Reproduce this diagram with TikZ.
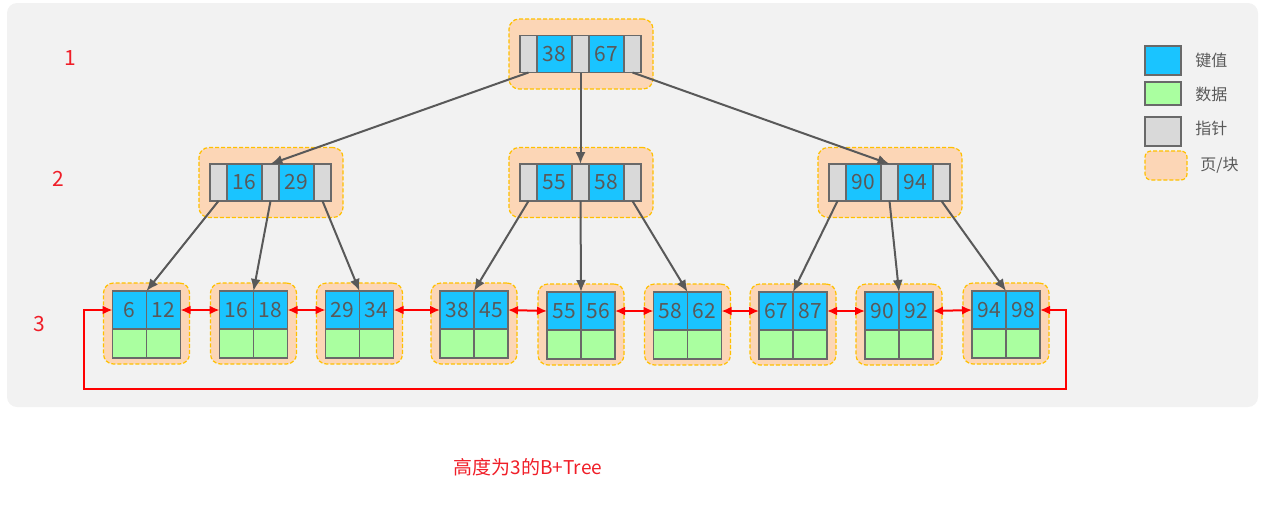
\documentclass[tikz,border=0pt]{standalone}
\usepackage{fontspec}
\setmainfont{Noto Sans CJK SC}
\usepackage{tikz}
\usetikzlibrary{arrows.meta,positioning}
\definecolor{panel}{RGB}{242,242,242}
\definecolor{keyblue}{RGB}{26,196,255}
\definecolor{datgreen}{RGB}{170,255,160}
\definecolor{ptrgray}{RGB}{217,217,217}
\definecolor{cellline}{RGB}{105,105,105}
\definecolor{pagefill}{RGB}{252,214,182}
\definecolor{pageline}{RGB}{255,192,0}
\definecolor{txtgray}{RGB}{89,89,89}
\definecolor{linkred}{RGB}{255,0,0}
\definecolor{labred}{RGB}{240,30,40}
\tikzstyle{cell}=[draw=cellline, line width=0.7pt, outer sep=0pt, inner sep=0pt, minimum height=18.5pt, text=txtgray, font=\fontsize{10.5}{12}\selectfont]
\tikzstyle{ptr}=[cell, fill=ptrgray, minimum width=8.5pt]
\tikzstyle{key}=[cell, fill=keyblue, minimum width=17.5pt]
\tikzstyle{dat}=[cell, fill=datgreen, minimum width=17pt, minimum height=14.5pt]
\tikzstyle{page}=[draw=pageline, fill=pagefill, dash pattern=on 2pt off 1pt, line width=0.6pt, rounded corners=5pt, outer sep=0pt]
\tikzstyle{dedge}=[draw=txtgray, line width=1pt, -{Latex[length=6pt,width=5pt]}]
\tikzstyle{link}=[draw=linkred, line width=1pt, {Latex[length=5pt,width=4.5pt]}-{Latex[length=5pt,width=4.5pt]}]
\tikzset{
  lvl/.style = {text=labred, font=\fontsize{10.5}{12}\selectfont},
  legtext/.style = {text=txtgray, anchor=west, inner sep=0pt, font=\fontsize{8}{10}\selectfont},
  caption/.style = {text=labred, font=\fontsize{9.5}{11}\selectfont},
}
\begin{document}
\begin{tikzpicture}[x=0.5pt,y=-0.5pt]
\useasboundingbox (0,0) rectangle (1261,504);
\fill[panel, rounded corners=5pt] (7,3) rectangle (1258,407);

% index pages: root and level 2
\foreach \n/\x/\y/\a/\b in {r/580.5/54/38/67, L/270.5/182.5/16/29, M/580.5/182.5/55/58, R/889.5/182.5/90/94}{
  \node[page, minimum width=72pt, minimum height=35pt] (pg\n) at (\x+0.5,\y) {};
  \node[ptr] (p\n1) at (\x,\y) {};
  \node[key, left=0pt of p\n1] (k\n1) {\a};
  \node[ptr, left=0pt of k\n1] (p\n0) {};
  \node[key, right=0pt of p\n1] (k\n2) {\b};
  \node[ptr, right=0pt of k\n2] (p\n2) {};
}

% leaf pages
\foreach \i/\x/\y/\a/\b in {1/146.5/310/6/12, 2/253.5/310/16/18, 3/359.5/310/29/34, 4/474/310/38/45, 5/581/311/55/56, 6/687.5/311/58/62, 7/793/311/67/87, 8/899/311/90/92, 9/1006/310/94/98}{
  \node[page, minimum width=43pt, minimum height=40.5pt] (lp\i) at (\x,\y+13.5) {};
  \node[key, minimum width=17pt, minimum height=19pt, anchor=east] (la\i) at (\x,\y) {\a};
  \node[key, minimum width=17pt, minimum height=19pt, anchor=west] (lb\i) at (\x,\y) {\b};
  \node[dat, below=0pt of la\i] (da\i) {};
  \node[dat, below=0pt of lb\i] (db\i) {};
}

% tree pointers
\foreach \n/\c in {0/L,1/M,2/R}
  \path[dedge] (pr\n.south) -- (p\c1.north);
\foreach \n/\i/\j/\k in {L/1/2/3, M/4/5/6, R/7/8/9}{
  \path[dedge] (p\n0.south) -- (la\i.north east);
  \path[dedge] (p\n1.south) -- (la\j.north east);
  \path[dedge] (p\n2.south) -- (la\k.north east);
}

% leaf links
\foreach \i in {1,...,8}{
  \pgfmathtruncatemacro\j{\i+1}
  \path[link] (lb\i.east) -- (la\j.west);
}
\coordinate (loopL) at (84,389);
\coordinate (loopR) at (1066,389);
\path[link] (la1.west) -| (loopL) -- (loopR) |- (lb9.east);

% levels
\node[lvl] (h1) at (70,58) {1};
\node[lvl] (h2) at (58,179) {2};
\node[lvl] (h3) at (39,324) {3};

% legend
\node[key, minimum width=18pt, minimum height=14.5pt] (lgkey) at (1163,60.5) {};
\node[dat, minimum width=18pt, minimum height=11.5pt] (lgdat) at (1163,93.5) {};
\node[ptr, minimum width=18pt, minimum height=14.5pt] (lgptr) at (1163,131.5) {};
\node[page, minimum width=21pt, minimum height=14.5pt, rounded corners=3pt] (lgpage) at (1166,165.5) {};
\node[legtext] (tkey) at (1195,60) {键值};
\node[legtext] (tdat) at (1195,94) {数据};
\node[legtext] (tptr) at (1195,128) {指针};
\node[legtext] (tpage) at (1200,165) {页/块};

\node[caption] (title) at (528,467) {高度为3的B+Tree};
\end{tikzpicture}
\end{document}
